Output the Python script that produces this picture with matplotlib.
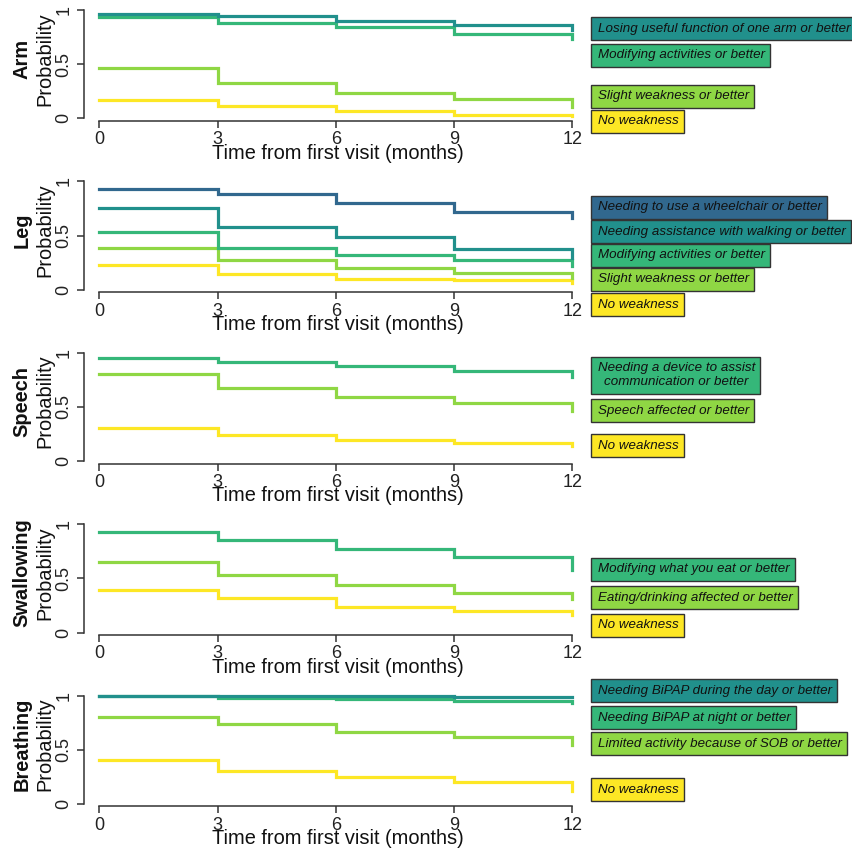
import matplotlib
matplotlib.use("Agg")
import matplotlib.pyplot as plt
from matplotlib.patches import Rectangle
from matplotlib.transforms import ScaledTranslation

plt.rcParams["font.family"] = ["Liberation Sans", "DejaVu Sans"]

# Data
times = [0, 3, 6, 9, 12]

panel_names = ["Arm", "Leg", "Speech", "Swallowing", "Breathing"]

arm_labels = ["Losing useful function of one arm or better",
              "Modifying activities or better",
              "Slight weakness or better",
              "No weakness"]
arm_probs = [[0.963, 0.945, 0.902, 0.865, 0.815],
             [0.932, 0.883, 0.840, 0.778, 0.729],
             [0.462, 0.329, 0.231, 0.178, 0.100],
             [0.169, 0.114, 0.071, 0.031, 0.025]]

leg_labels = ["Needing to use a wheelchair or better",
              "Needing assistance with walking or better",
              "Modifying activities or better",
              "Slight weakness or better",
              "No weakness"]
leg_probs = [[0.932, 0.885, 0.805, 0.721, 0.659],
             [0.759, 0.582, 0.483, 0.378, 0.297],
             [0.533, 0.381, 0.319, 0.272, 0.217],
             [0.381, 0.272, 0.204, 0.155, 0.111],
             [0.229, 0.149, 0.102, 0.093, 0.062]]

speech_labels = ["Needing a device to assist\ncommunication or better",
                 "Speech affected or better",
                 "No weakness"]
speech_probs = [[0.951, 0.914, 0.881, 0.835, 0.780],
                [0.804, 0.673, 0.590, 0.535, 0.459],
                [0.303, 0.242, 0.199, 0.168, 0.138]]

swallow_labels = ["Modifying what you eat or better",
                  "Eating/drinking affected or better",
                  "No weakness"]
swallow_probs = [[0.926, 0.852, 0.772, 0.695, 0.578],
                 [0.655, 0.532, 0.437, 0.363, 0.308],
                 [0.394, 0.317, 0.240, 0.203, 0.163]]

breath_labels = ["Needing BiPAP during the day or better",
                 "Needing BiPAP at night or better",
                 "Limited activity because of SOB or better",
                 "No weakness"]
breath_probs = [[0.998, 0.996, 0.995, 0.990, 0.985],
                [0.995, 0.980, 0.966, 0.950, 0.935],
                [0.803, 0.735, 0.665, 0.618, 0.545],
                [0.406, 0.305, 0.252, 0.206, 0.123]]

# viridis(7) colours
blue, teal, green, lgreen, yellow = "#31688E", "#21908C", "#35B779", "#8FD744", "#FDE725"

panels = [
    (arm_labels, arm_probs, [teal, green, lgreen, yellow], [0.825, 0.584, 0.204, -0.027]),
    (leg_labels, leg_probs, [blue, teal, green, lgreen, yellow], [0.760, 0.536, 0.320, 0.096, -0.140]),
    (speech_labels, speech_probs, [green, lgreen, yellow], [0.793, 0.466, 0.143]),
    (swallow_labels, swallow_probs, [green, lgreen, yellow], [0.586, 0.320, 0.068]),
    (breath_labels, breath_probs, [teal, green, lgreen, yellow], [1.043, 0.794, 0.557, 0.129]),
]

W, H = 852, 856
fig = plt.figure(figsize=(W / 100, H / 100), dpi=100)

ax_left, ax_w = 84.3, 506.5
ax_h = 117.2
x_lo, x_hi = -0.38, 12.47
y_lo, y_hi = -0.022, 1.06

boxed = []
for i, (labels, probs, cols, label_y) in enumerate(panels):
    zero_px = 118.3 + 171.4 * i
    bottom_px = zero_px + 2.4
    ax = fig.add_axes([ax_left / W, 1 - bottom_px / H, ax_w / W, ax_h / H])

    # draw lowest level first so the top curves sit on top
    for vals, c in reversed(list(zip(probs, cols))):
        ax.step(times, vals, where="post", color=c, lw=2.3, solid_joinstyle="miter")

    ax.set_xlim(x_lo, x_hi)
    ax.set_ylim(y_lo, y_hi)
    for s in ["top", "right"]:
        ax.spines[s].set_visible(False)
    ax.spines["left"].set_bounds(0, 1)
    ax.spines["bottom"].set_bounds(0, 12)
    for s in ["left", "bottom"]:
        ax.spines[s].set_color("#333333")
        ax.spines[s].set_linewidth(1.1)

    ax.set_xticks(times)
    ax.set_xticklabels([str(t) for t in times])
    ax.set_yticks([0, 0.5, 1])
    ax.set_yticklabels(["0", "0.5", "1"])
    ax.tick_params(axis="both", direction="out", length=5, width=1.1,
                   color="#333333", labelsize=13, labelcolor="#222222")
    ax.tick_params(axis="x", pad=2.5)
    ax.tick_params(axis="y", pad=3.5)
    for lab in ax.get_yticklabels():
        lab.set_rotation(90)
        lab.set_va("center")

    ax.text(0.5, -0.195, "Time from first visit (months)", transform=ax.transAxes,
            ha="center", va="top", fontsize=14.4, color="#111111")
    yc = (0.55 - y_lo) / (y_hi - y_lo)
    ax.text(-0.078, yc, "Probability", transform=ax.transAxes, rotation=90,
            ha="center", va="center", fontsize=14.4, color="#111111")
    ax.text(-0.123, yc, panel_names[i], transform=ax.transAxes, rotation=90,
            ha="center", va="center", fontsize=14.4, fontweight="bold", color="#111111")

    # labels at the right
    for lab, c, ly in zip(labels, cols, label_y):
        t = ax.text(12.47, ly, lab, ha="left", va="center", fontsize=9.6,
                    style="italic", color="#111111", multialignment="center",
                    clip_on=False, zorder=5)
        boxed.append((ax, t, c))

# coloured boxes behind the right-hand labels
fig.canvas.draw()
renderer = fig.canvas.get_renderer()
pad_l, pad_r, pad_y = 7, 5, 5.5
for ax, t, c in boxed:
    bb = t.get_window_extent(renderer)
    t.set_transform(t.get_transform() + ScaledTranslation(pad_l / 100, 0, fig.dpi_scale_trans))
    inv = ax.transData.inverted()
    (x0, y0) = inv.transform((bb.x0, bb.y0 - pad_y))
    (x1, y1) = inv.transform((bb.x1 + pad_l + pad_r, bb.y1 + pad_y))
    ax.add_patch(Rectangle((x0, y0), x1 - x0, y1 - y0, fc=c, ec="#333333",
                           lw=1.0, clip_on=False, zorder=4))

fig.savefig("out.png", dpi=100)
